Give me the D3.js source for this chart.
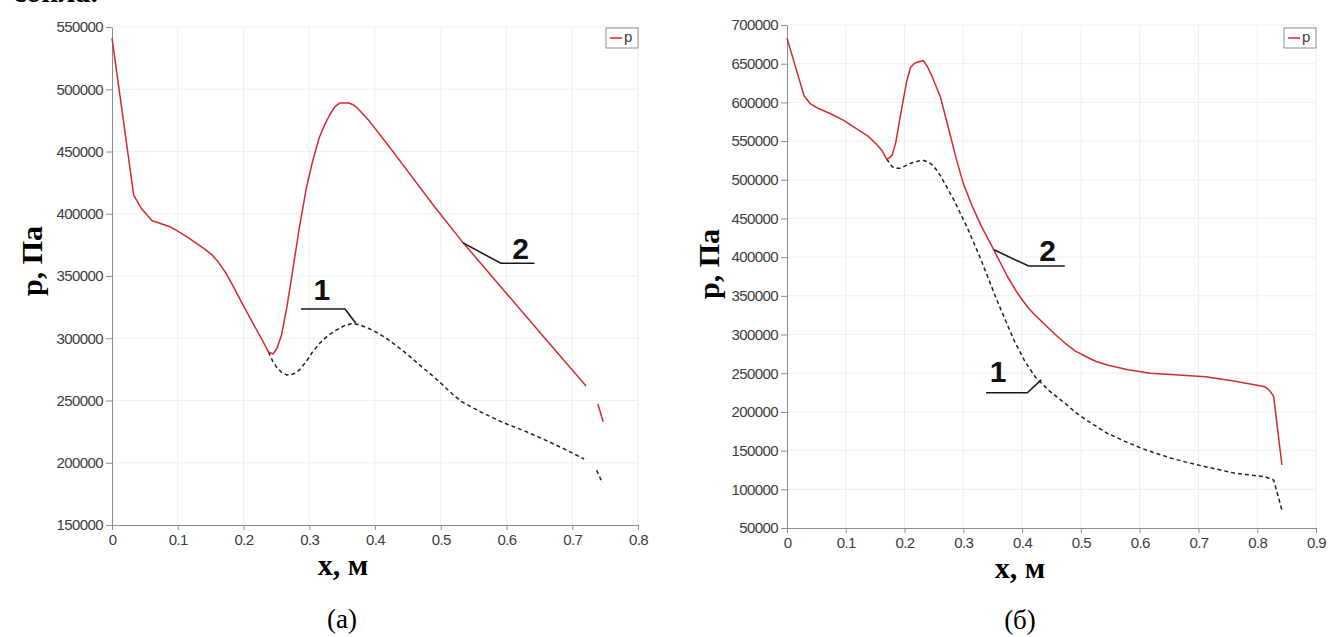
<!DOCTYPE html>
<html><head><meta charset="utf-8">
<script src="https://cdn.jsdelivr.net/npm/d3@7"></script>
<style>
html,body{margin:0;padding:0;background:#fff;}
svg{display:block;}
.tick text{font-family:"Liberation Sans",Arial,sans-serif;font-size:15px;fill:#3c3c3c;letter-spacing:-0.6px;}
</style></head>
<body>
<svg id="c" width="1328" height="637"></svg>
<script>
// ---------- data: chart (a) ----------
const aX2 = [0, 0.033, 0.045, 0.061, 0.075, 0.088, 0.1, 0.117, 0.14, 0.152, 0.162, 0.173, 0.185, 0.2, 0.213, 0.225, 0.238, 0.245, 0.251, 0.258, 0.266, 0.275, 0.285, 0.296, 0.305, 0.315, 0.323, 0.331, 0.339, 0.347, 0.36, 0.367, 0.373, 0.382, 0.392, 0.42, 0.45, 0.49, 0.532, 0.6, 0.66, 0.721, null, 0.739, 0.747];
const aP2 = [541000, 415000, 404000, 394400, 392000, 389600, 386000, 380500, 372000, 367000, 361000, 352500, 341000, 326000, 313300, 302000, 289000, 287400, 292000, 303000, 325000, 355000, 389000, 421700, 442000, 460800, 471000, 479300, 486000, 489000, 489000, 487500, 485000, 480000, 474000, 455000, 434000, 406000, 378000, 336000, 299000, 261600, null, 247200, 233000];
const aX1 = [0.238, 0.244, 0.25, 0.258, 0.266, 0.275, 0.285, 0.295, 0.305, 0.316, 0.328, 0.341, 0.353, 0.366, 0.378, 0.39, 0.405, 0.42, 0.44, 0.455, 0.469, 0.485, 0.5, 0.52, 0.532, 0.56, 0.596, 0.63, 0.66, 0.69, 0.718, null, 0.737, 0.746];
const aP1 = [289000, 282000, 277000, 272500, 270500, 271000, 274500, 281000, 289000, 296000, 302000, 306500, 310000, 312000, 310500, 308000, 304000, 299000, 291000, 284500, 278000, 271000, 264000, 254000, 249000, 241000, 232000, 225000, 218000, 210500, 203000, null, 194000, 183700];
const aXTicks = [0, 0.1, 0.2, 0.3, 0.4, 0.5, 0.6, 0.7, 0.8];
const aYTicks = [150000, 200000, 250000, 300000, 350000, 400000, 450000, 500000, 550000];

// ---------- data: chart (б) ----------
const bX2 = [0, 0.029, 0.04, 0.052, 0.075, 0.0956, 0.12, 0.139, 0.152, 0.161, 0.1696, 0.174, 0.179, 0.185, 0.19, 0.197, 0.203, 0.21, 0.2175, 0.232, 0.239, 0.246, 0.261, 0.275, 0.288, 0.3, 0.315, 0.33, 0.349, 0.375, 0.39, 0.4, 0.41, 0.42, 0.436, 0.455, 0.473, 0.49, 0.509, 0.525, 0.545, 0.58, 0.618, 0.66, 0.712, 0.76, 0.795, 0.813, 0.822, 0.828, 0.842];
const bP2 = [683000, 608600, 598000, 592700, 585000, 577000, 565000, 555600, 546000, 538500, 526800, 528000, 532000, 548000, 570000, 600000, 625000, 645000, 651000, 654000, 646000, 635000, 607000, 566000, 527000, 495000, 466000, 441000, 413500, 375000, 356000, 345000, 335000, 326500, 315000, 301000, 289000, 279000, 271300, 265500, 260600, 254500, 250000, 248000, 245500, 240000, 235000, 232600, 227000, 219700, 131400];
const bX1 = [0.1696, 0.179, 0.186, 0.193, 0.2116, 0.2297, 0.24, 0.248, 0.255, 0.262, 0.284, 0.306, 0.328, 0.357, 0.386, 0.405, 0.422, 0.445, 0.473, 0.49, 0.509, 0.545, 0.575, 0.603, 0.63, 0.654, 0.685, 0.712, 0.7625, 0.813, 0.828, 0.842];
const bP1 = [526800, 516900, 515000, 515000, 521600, 525500, 523000, 519000, 512000, 504000, 473800, 439300, 400600, 344600, 292900, 265000, 245500, 228000, 211100, 200000, 189600, 172400, 162000, 153000, 146000, 140100, 134000, 129200, 120700, 116300, 112000, 73300];
const bXTicks = [0, 0.1, 0.2, 0.3, 0.4, 0.5, 0.6, 0.7, 0.8, 0.9];
const bYTicks = [50000, 100000, 150000, 200000, 250000, 300000, 350000, 400000, 450000, 500000, 550000, 600000, 650000, 700000];

// annotation leaders (data coords) and labels
const aLead1 = [[0.2875, 323500], [0.3544, 323500], [0.3705, 312200]];
const aLab1 = [0.319, 331000, "1"];
const aLead2 = [[0.534, 376600], [0.5913, 360200], [0.6426, 360200]];
const aLab2 = [0.6214, 363600, "2"];
const bLead2 = [[0.352, 409500], [0.411, 388600], [0.4726, 388600]];
const bLab2 = [0.4435, 395000, "2"];
const bLead1 = [[0.3386, 224800], [0.4088, 224800], [0.4326, 241500]];
const bLab1 = [0.359, 238700, "1"];

const svg = d3.select("#c");
const RED = "#d42a2a";

// cropped caption text at the very top (cut off in the reference as well)
svg.append("text").attr("x", 13).attr("y", 2)
  .attr("font-family", "Liberation Serif, serif").attr("font-weight", "bold")
  .attr("font-size", 30).attr("fill", "#000").text("сопла.");

function zip(xs, ys){ return xs.map((x,i)=>[x, ys[i]]); }

function chart(o){
  const x = d3.scaleLinear().domain(o.xDom).range(o.xR);
  const y = d3.scaleLinear().domain(o.yDom).range(o.yR);
  const g = svg.append("g");
  // grid
  g.append("g").selectAll("line").data(o.xTicks.filter(t=>t>0)).join("line")
    .attr("x1", d=>x(d)).attr("x2", d=>x(d)).attr("y1", o.yR[0]).attr("y2", o.yR[1])
    .attr("stroke", "#efefef").attr("stroke-width", 1);
  g.append("g").selectAll("line").data(o.yTicks.filter(t=>t>o.yDom[0])).join("line")
    .attr("x1", o.xR[0]).attr("x2", o.xR[1]).attr("y1", d=>y(d)).attr("y2", d=>y(d))
    .attr("stroke", "#efefef").attr("stroke-width", 1);
  // axes
  const fx = d => d === 0 ? "0" : d3.format(".1f")(d);
  const ax = g.append("g").attr("transform", `translate(0,${o.yR[0]})`)
    .call(d3.axisBottom(x).tickValues(o.xTicks).tickFormat(fx).tickSize(5).tickPadding(4).tickSizeOuter(0));
  const ay = g.append("g").attr("transform", `translate(${o.xR[0]},0)`)
    .call(d3.axisLeft(y).tickValues(o.yTicks).tickFormat(d3.format("d")).tickSize(6).tickPadding(3).tickSizeOuter(0));
  [ax, ay].forEach(a => { a.select(".domain").attr("stroke", "#8c8c8c"); a.selectAll(".tick line").attr("stroke", "#8c8c8c"); });

  const line = d3.line().defined(d => d[0] != null && d[1] != null)
    .x(d => x(d[0])).y(d => y(d[1]));
  g.append("path").attr("d", line(zip(o.x1, o.p1))).attr("fill", "none")
    .attr("stroke", "#222").attr("stroke-width", 1.5).attr("stroke-dasharray", "4,3")
    .attr("stroke-linejoin", "round");
  g.append("path").attr("d", line(zip(o.x2, o.p2))).attr("fill", "none")
    .attr("stroke", RED).attr("stroke-width", 1.5).attr("stroke-linejoin", "round");

  // leaders + labels
  const lin = d3.line().x(d => x(d[0])).y(d => y(d[1]));
  o.leads.forEach(([pts, lab]) => {
    g.append("path").attr("d", lin(pts)).attr("fill", "none").attr("stroke", "#1a1a1a").attr("stroke-width", 1.6);
    g.append("text").attr("x", x(lab[0])).attr("y", y(lab[1])).attr("text-anchor", "middle")
      .attr("font-family", "Liberation Sans Narrow, Liberation Sans, Arial, sans-serif").attr("font-weight", "bold")
      .attr("font-size", 30).attr("fill", "#111").text(lab[2]);
  });

  // legend
  const lx = o.xR[1] - 32, ly = 28;
  const lg = g.append("g");
  lg.append("rect").attr("x", lx).attr("y", ly).attr("width", 32).attr("height", 20)
    .attr("fill", "#fff").attr("stroke", "#8c8c8c").attr("stroke-width", 1);
  lg.append("line").attr("x1", lx + 4).attr("x2", lx + 16).attr("y1", ly + 10).attr("y2", ly + 10)
    .attr("stroke", RED).attr("stroke-width", 1.5);
  lg.append("text").attr("x", lx + 18).attr("y", ly + 14).attr("font-family", "Liberation Sans, Arial, sans-serif")
    .attr("font-size", 15).attr("fill", "#3c3c3c").text("p");

  // axis titles
  svg.append("text").attr("transform", `translate(${o.yTitle[0]},${o.yTitle[1]}) rotate(-90)`)
    .attr("text-anchor", "middle").attr("font-family", "Liberation Serif, serif").attr("font-weight", "bold")
    .attr("font-size", 30).attr("fill", "#000").text("p, Па");
  svg.append("text").attr("x", o.xTitle[0]).attr("y", o.xTitle[1]).attr("text-anchor", "middle")
    .attr("font-family", "Liberation Serif, serif").attr("font-weight", "bold")
    .attr("font-size", 30).attr("fill", "#000").text("x, м");
  svg.append("text").attr("x", o.cap[0]).attr("y", o.cap[1]).attr("text-anchor", "middle")
    .attr("font-family", "Liberation Serif, serif").attr("font-size", 27).attr("fill", "#000").text(o.cap[2]);
}

chart({xDom:[0,0.8], xR:[112,638], yDom:[150000,550000], yR:[525,27],
  xTicks:aXTicks, yTicks:aYTicks, x1:aX1, p1:aP1, x2:aX2, p2:aP2,
  leads:[[aLead1, aLab1],[aLead2, aLab2]],
  yTitle:[42,261], xTitle:[343,575], cap:[342,628,"(a)"]});
chart({xDom:[0,0.9], xR:[787,1316], yDom:[50000,700000], yR:[528,25],
  xTicks:bXTicks, yTicks:bYTicks, x1:bX1, p1:bP1, x2:bX2, p2:bP2,
  leads:[[bLead2, bLab2],[bLead1, bLab1]],
  yTitle:[719,264], xTitle:[1020,578], cap:[1020,629,"(б)"]});
</script>
</body></html>
